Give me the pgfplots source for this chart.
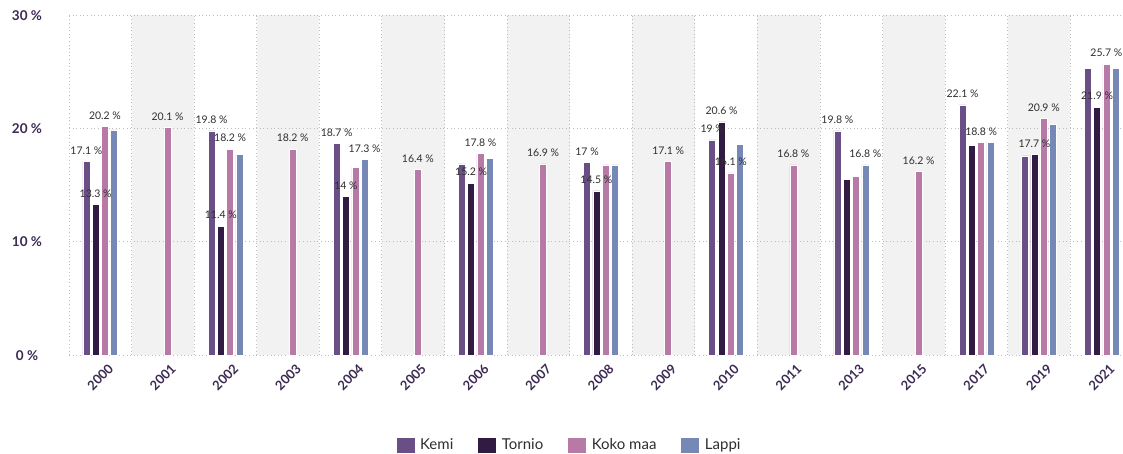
\documentclass[border=0pt]{standalone}
\usepackage{fontspec}
\setmainfont{Lato}
\usepackage{pgfplots}
\pgfplotsset{compat=1.18}
\definecolor{kemi}{HTML}{6A4F87}
\definecolor{tornio}{HTML}{311B42}
\definecolor{koko}{HTML}{B779A6}
\definecolor{lappi}{HTML}{7689B6}
\definecolor{band}{HTML}{F2F2F2}
\definecolor{gridc}{HTML}{BDBDBD}
\definecolor{ticktxt}{HTML}{3B2A52}
\definecolor{labtxt}{HTML}{2E2E2E}
% label is shown only when a meta text is given
\def\lab#1{\ifx\relax#1\relax\else#1\ \%\fi}
\begin{document}
\begin{tikzpicture}[x=1pt,y=1pt]
\begin{axis}[
    at={(69pt,97.7pt)}, anchor=south west,
    scale only axis, width=1064pt, height=340pt,
    xmin=-0.5, xmax=16.5, ymin=0, ymax=30,
    set layers,
    ybar=2.3pt, bar width=7pt,
    every axis plot post/.append style={draw=white, line width=0.5pt,
        legend image code/.code={\fill[##1] (0pt,-8pt) rectangle (19pt,8pt);}},
    axis line style={draw=none},
    tick style={draw=none},
    xtick={0,...,16},
    xticklabels={2000,2001,2002,2003,2004,2005,2006,2007,2008,2009,2010,2011,2013,2015,2017,2019,2021},
    minor xtick={-0.5,0.5,...,16.5},
    xminorgrids, ymajorgrids,
    ytick={0,10,20,30},
    yticklabels={0 \%,10 \%,20 \%,30 \%},
    major grid style={dash pattern=on 1pt off 2.6pt, gridc, line width=1pt},
    minor grid style={dash pattern=on 1pt off 2.6pt, gridc, line width=1pt},
    xticklabel style={rotate=45, anchor=north east, xshift=6pt, yshift=-4pt,
        font=\fontsize{13}{13}\selectfont\bfseries, text=ticktxt},
    yticklabel style={anchor=center, xshift=-42pt,
        font=\fontsize{13.5}{13.5}\selectfont\bfseries, text=ticktxt},
    point meta=explicit symbolic,
    nodes near coords={\expandafter\lab\expandafter{\pgfplotspointmeta}},
    every node near coord/.append style={font=\fontsize{10.5}{10.5}\selectfont,
        text=labtxt, yshift=3.5pt},
    legend columns=4,
    legend style={at={(0.47,-0.264)}, anchor=center, draw=none, fill=none,
        font=\fontsize{15}{15}\selectfont, text=labtxt,
        /tikz/every odd column/.append style={column sep=3pt},
        /tikz/every even column/.append style={column sep=22pt}},
]
\begin{pgfonlayer}{axis background}
\fill[band] (axis cs:0.5,0) rectangle (axis cs:1.5,30);
\fill[band] (axis cs:2.5,0) rectangle (axis cs:3.5,30);
\fill[band] (axis cs:4.5,0) rectangle (axis cs:5.5,30);
\fill[band] (axis cs:6.5,0) rectangle (axis cs:7.5,30);
\fill[band] (axis cs:8.5,0) rectangle (axis cs:9.5,30);
\fill[band] (axis cs:10.5,0) rectangle (axis cs:11.5,30);
\fill[band] (axis cs:12.5,0) rectangle (axis cs:13.5,30);
\fill[band] (axis cs:14.5,0) rectangle (axis cs:15.5,30);
\end{pgfonlayer}

% Kemi
\addplot[fill=kemi] coordinates {
 (0,17.1) [17.1] (2,19.8) [19.8] (4,18.7) [18.7] (6,16.9) [] (8,17.0) [17]
 (10,19.0) [19] (12,19.8) [19.8] (14,22.1) [22.1] (15,17.6) [] (16,25.3) []};
% Tornio
\addplot[fill=tornio] coordinates {
 (0,13.3) [13.3] (2,11.4) [11.4] (4,14.0) [14] (6,15.2) [15.2] (8,14.5) [14.5]
 (10,20.6) [20.6] (12,15.5) [] (14,18.5) [] (15,17.7) [17.7] (16,21.9) [21.9]};
% Koko maa
\addplot[fill=koko] coordinates {
 (0,20.2) [20.2] (1,20.1) [20.1] (2,18.2) [18.2] (3,18.2) [18.2] (4,16.6) []
 (5,16.4) [16.4] (6,17.8) [17.8] (7,16.9) [16.9] (8,16.8) [] (9,17.1) [17.1]
 (10,16.1) [16.1] (11,16.8) [16.8] (12,15.8) [] (13,16.2) [16.2]
 (14,18.8) [18.8] (15,20.9) [20.9] (16,25.7) [25.7]};
% Lappi
\addplot[fill=lappi] coordinates {
 (0,19.9) [] (2,17.7) [] (4,17.3) [17.3] (6,17.4) [] (8,16.8) []
 (10,18.6) [] (12,16.8) [16.8] (14,18.8) [] (15,20.4) [] (16,25.3) []};
\legend{Kemi,Tornio,Koko maa,Lappi}
\end{axis}
\pgfresetboundingbox
\path[use as bounding box] (0,0) rectangle (1123,453);
\end{tikzpicture}
\end{document}
